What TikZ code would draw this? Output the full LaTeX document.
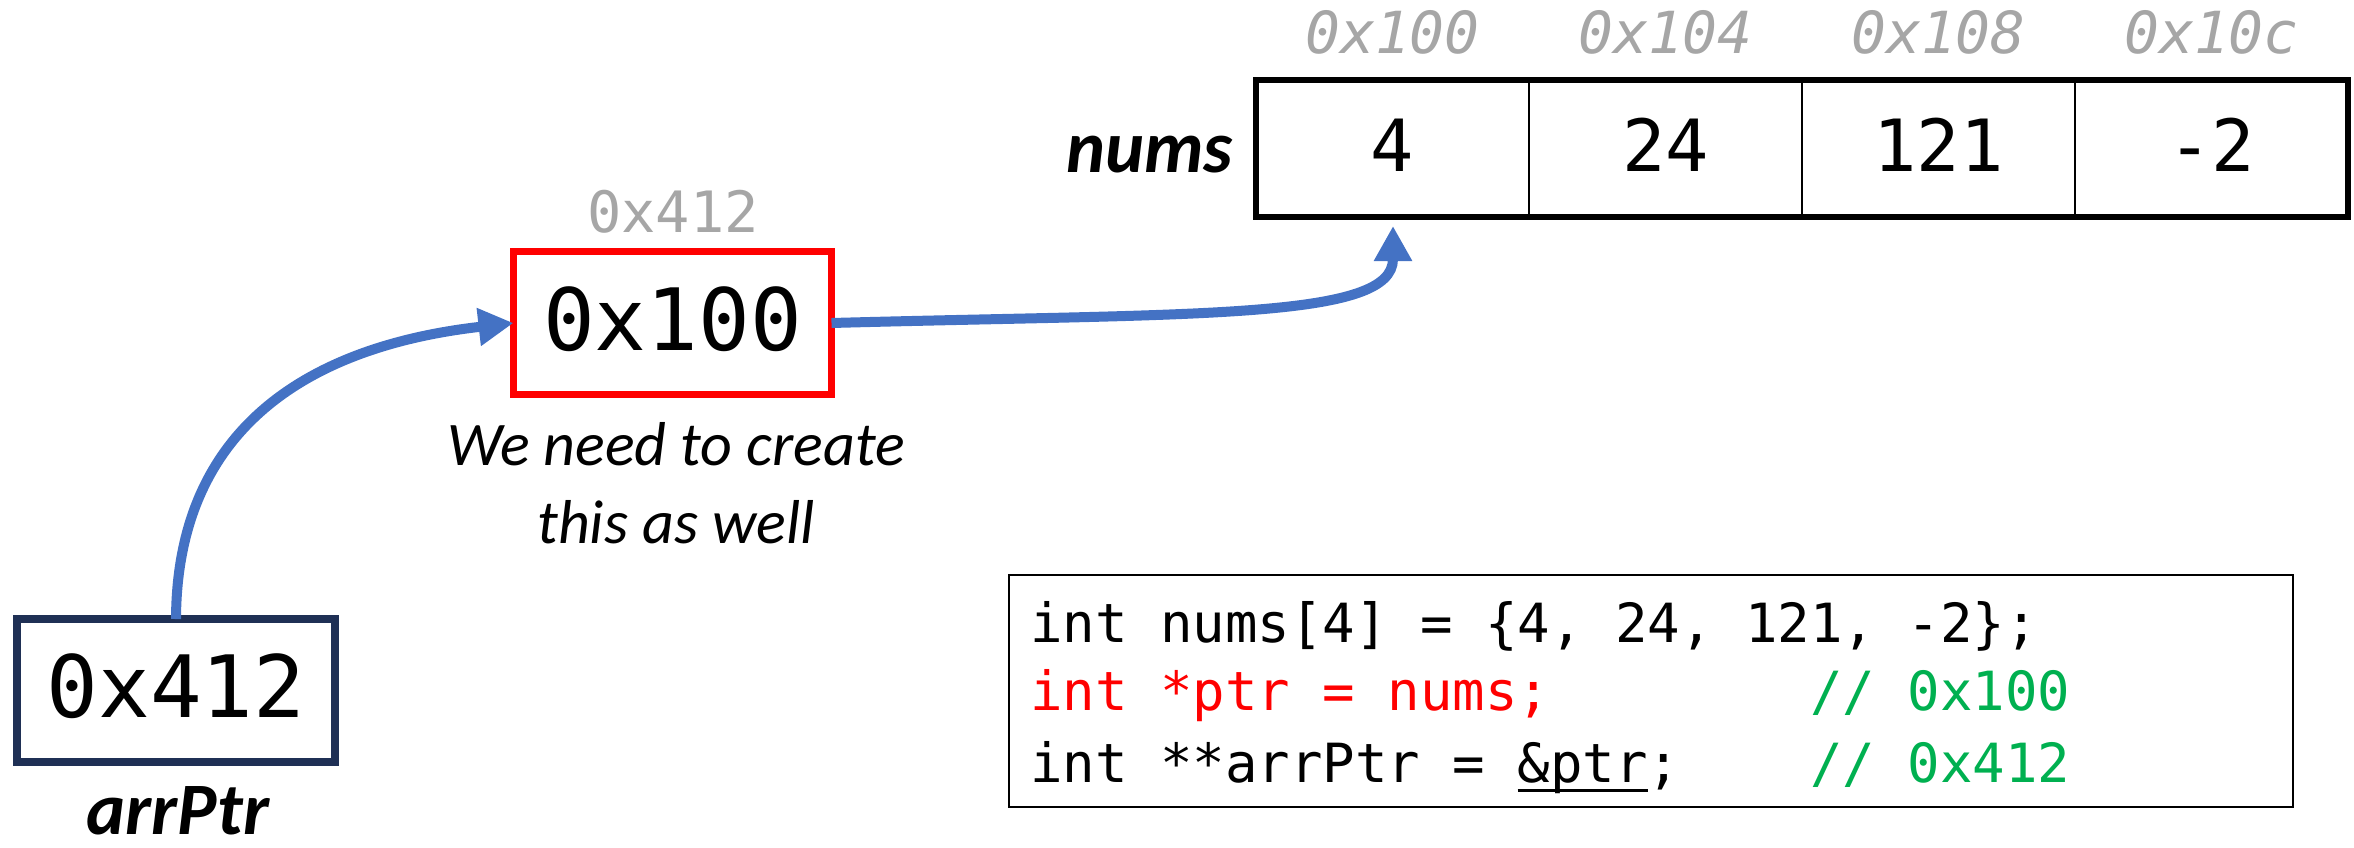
\documentclass[tikz,border=0pt]{standalone}
\usepackage{fontspec}
\setmainfont{Carlito}
\setmonofont{DejaVu Sans Mono}
\usetikzlibrary{arrows.meta}
\definecolor{addrgrey}{HTML}{A6A6A6}
\definecolor{ptrred}{HTML}{FF0000}
\definecolor{cmtgreen}{HTML}{00B050}
\definecolor{arrowblue}{HTML}{4472C4}
\definecolor{navybox}{HTML}{1F3055}
\begin{document}
\begin{tikzpicture}[x=0.5pt,y=-0.5pt,
  every node/.style={outer sep=0pt, inner sep=0pt},
  cellbox/.style={draw=black, line width=1.3pt, minimum width=136.5pt, minimum height=68.5pt,
    font=\ttfamily\fontsize{36}{40}\selectfont, text height=26.2pt, text depth=3.1pt},
  addrtop/.style={anchor=base, text=addrgrey, font=\ttfamily\itshape\fontsize{29}{32}\selectfont},
  bigbox/.style={line width=3.9pt, fill=white, minimum width=159pt, minimum height=71.5pt,
    font=\ttfamily\fontsize{43}{48}\selectfont, text height=31.3pt, text depth=3.9pt},
  varname/.style={anchor=base, font=\bfseries\itshape\fontsize{37}{42}\selectfont},
  note/.style={anchor=base, font=\itshape\fontsize{31}{39}\selectfont},
  codeline/.style={anchor=base west, font=\ttfamily\fontsize{27}{35}\selectfont},
  ptr/.style={draw=arrowblue, line width=5pt, -{Triangle[length=17.5pt,width=18pt]}}]
\useasboundingbox (0,0) rectangle (2354,847);

% array
\node[cellbox] (c1) at (1392.5,148.5) {4};
\node[cellbox] (c2) at (1665.5,148.5) {24};
\node[cellbox] (c3) at (1938.5,148.5) {121};
\node[cellbox] (c4) at (2211.5,148.5) {-2};
\draw[line width=2.8pt] (c1.north west) rectangle (c4.south east);
\node[varname, anchor=base east] (numslbl) at (1233,172) {nums};
\node[addrtop] (a1) at (1392.5,53) {0x100};
\node[addrtop] (a2) at (1665.5,53) {0x104};
\node[addrtop] (a3) at (1938.5,53) {0x108};
\node[addrtop] (a4) at (2211.5,53) {0x10c};

% ptr box
\node[bigbox, draw=ptrred] (ptrbox) at (672.5,323) {0x100};
\node[anchor=base, text=addrgrey, font=\ttfamily\fontsize{28.5}{32}\selectfont] (ptraddr) at (673,232) {0x412};
\node[note] (note1) at (676,465) {We need to create};
\node[note] (note2) at (676,543) {this as well};

% arrPtr box
\node[bigbox, draw=navybox] (arrbox) at (176,690.5) {0x412};
\node[varname] (arrlbl) at (178,834) {arrPtr};

% code box
\node[draw=black, line width=1pt, minimum width=642pt, minimum height=116pt] (codebox) at (1651,691) {};
\node[codeline] (l1) at (1030,642) {int nums[4] = \{4, 24, 121, -2\};};
\node[codeline, text=ptrred] (l2) at (1030,710) {int *ptr = nums;};
\node[codeline, text=cmtgreen] (l2c) at (1810,710) {// 0x100};
\node[codeline] (l3) at (1030,782) {int **arrPtr = \rlap{\rule[-5pt]{65pt}{1.5pt}}\&ptr;};
\node[codeline, text=cmtgreen] (l3c) at (1810,782) {// 0x412};

% arrows
\coordinate (tip) at (1393,226);
\draw[ptr] (arrbox.north) .. controls (177,420) and (320,345) .. (ptrbox.west);
\draw[ptr] (ptrbox.east) .. controls (1200,313) and (1393,320) .. (tip);
\end{tikzpicture}
\end{document}
